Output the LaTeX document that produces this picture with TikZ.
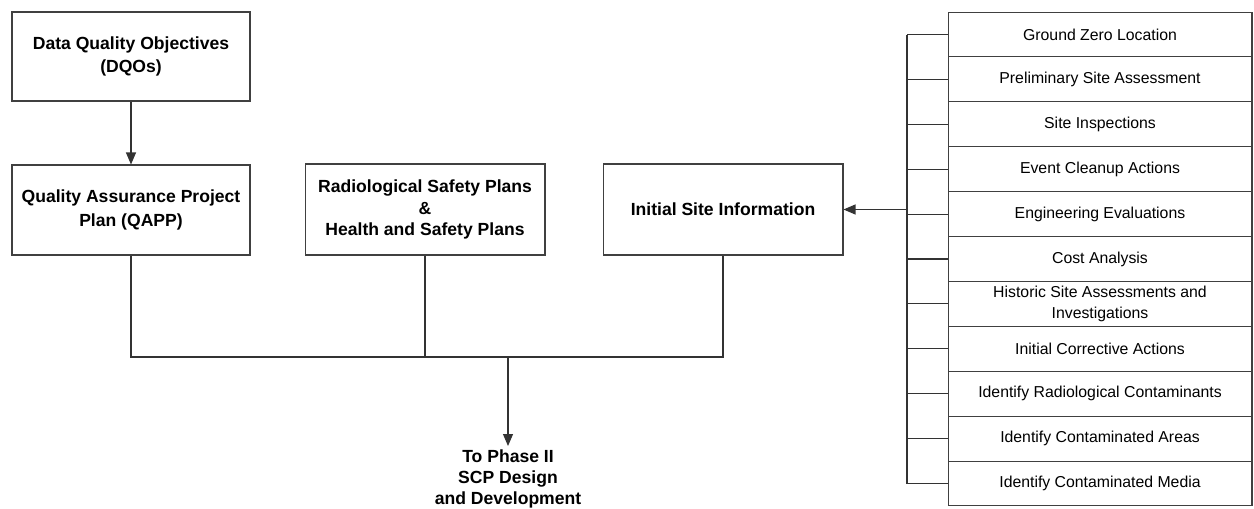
\documentclass[tikz,border=0pt]{standalone}
\usepackage{fontspec}
\setmainfont{Liberation Sans}
\usetikzlibrary{arrows.meta}

\begin{document}
\begin{tikzpicture}[x = 0.02cm, y = -0.02cm, line width = 0.6pt,
  box/.style = {draw = black!75, align = center, font = {\fontsize{10pt}{13.5pt}\selectfont\bfseries}},
  listbox/.style = {draw = black!75, align = center, minimum width = 6.08cm, minimum height = 0.898cm, inner sep = 1pt, font = {\fontsize{9pt}{11.4pt}\selectfont}},
  wire/.style = {draw = black!80},
  arr/.style = {wire, -{Triangle[length = 2.4mm, width = 2mm]}}]
\useasboundingbox (0,0) rectangle (1254,508);

\node[box, minimum width = 4.76cm, minimum height = 1.78cm] (DQO) at (131, 56.5) {Data Quality Objectives \\ (DQOs)};
\node[box, minimum width = 4.76cm, minimum height = 1.8cm] (QAPP) at (131, 210) {Quality Assurance Project \\ Plan (QAPP)};
\node[box, minimum width = 4.8cm, minimum height = 1.82cm, font = {\fontsize{10pt}{12.2pt}\selectfont\bfseries}] (RSP) at (425, 209.5) {Radiological Safety Plans \\ \& \\ Health and Safety Plans};
\node[box, minimum width = 4.8cm, minimum height = 1.82cm] (ISI) at (723, 209.5) {Initial Site Information};
\node[align = center, anchor = north, inner sep = 2pt, font = {\fontsize{10pt}{11.8pt}\selectfont\bfseries}] (PH2) at (508, 446) {To Phase II \\ SCP Design \\ and Development};

% stacked list of site information sources
\foreach \i/\txt in {1/Ground Zero Location, 2/Preliminary Site Assessment, 3/Site Inspections, 4/Event Cleanup Actions, 5/Engineering Evaluations, 6/Cost Analysis, 7/{Historic Site Assessments and \\ Investigations}, 8/Initial Corrective Actions, 9/Identify Radiological Contaminants, 10/Identify Contaminated Areas, 11/Identify Contaminated Media}
	\node[listbox] (SRC\i) at (1100, {34.5 + 44.9*(\i - 1)}) {\txt};

\coordinate (BUS) at (907, 0);
\coordinate (JOIN) at (508, 357);

\draw[wire] (SRC1.west -| BUS) -- (SRC11.west -| BUS);
\foreach \i in {1, ..., 11}
	\draw[wire] (SRC\i.west) -- (SRC\i.west -| BUS);
\draw[arr] (BUS |- ISI.east) -- (ISI.east);

\draw[arr] (DQO) -- (QAPP);
\draw[wire] (QAPP) -- (QAPP |- JOIN) -- (ISI |- JOIN) -- (ISI);
\draw[wire] (RSP) -- (RSP |- JOIN);
\draw[arr] (JOIN) -- (PH2.north);
\end{tikzpicture}
\end{document}
